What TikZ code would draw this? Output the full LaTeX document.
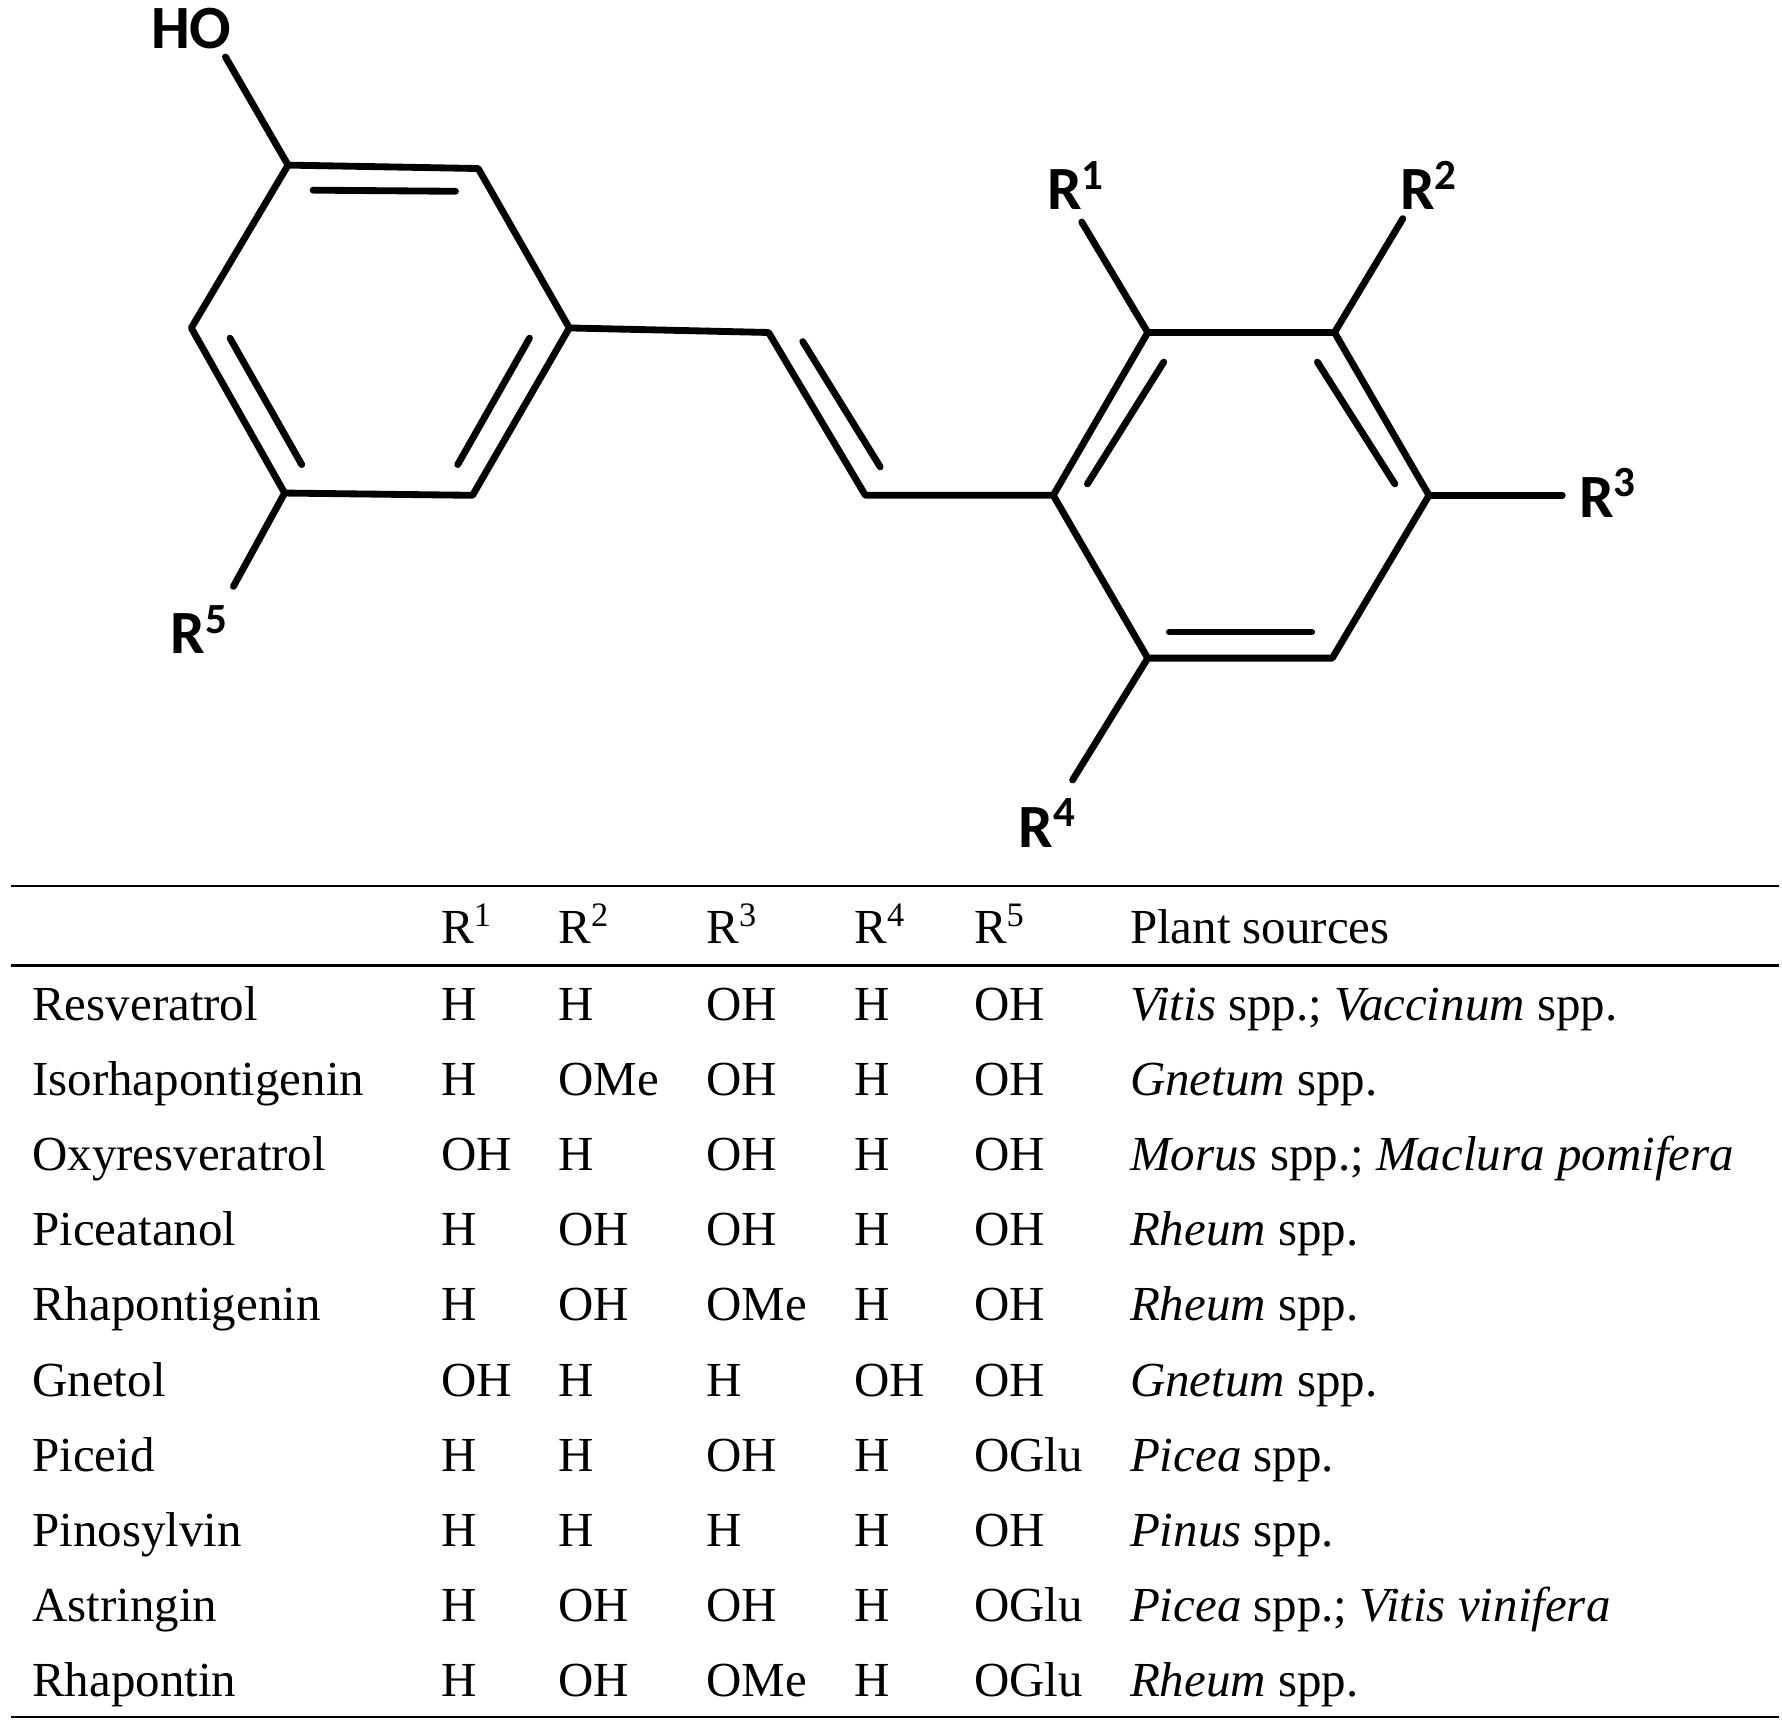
\documentclass[tikz,border=0pt]{standalone}
\usepackage{fontspec}
\setmainfont{Liberation Serif}
\newfontfamily\lab{Carlito}
\begin{document}
\begin{tikzpicture}[x=0.5pt,y=-0.5pt,
  bond/.style={line width=3pt,line cap=round,line join=round},
  lbl/.style={font=\lab\bfseries\fontsize{27}{30}\selectfont,inner sep=0pt},
  cell/.style={anchor=base west,font=\fontsize{21.5}{24}\selectfont,inner sep=0pt},
  rule/.style={line width=1pt}]
\useasboundingbox (0,0) rectangle (1565,1515);
% left ring
\coordinate (A) at (253,145); \coordinate (B) at (420,148); \coordinate (C) at (500,288);
\coordinate (D) at (415,435); \coordinate (E) at (250,433); \coordinate (F) at (168,288);
\draw[bond] (A)--(B)--(C)--(D)--(E)--(F)--cycle;
\draw[bond] (275,167)--(400,168);
\draw[bond] (465,297)--(402,408);
\draw[bond] (265,408)--(202,297);
\node[lbl] (ho) at (168,25) {HO};
\draw[bond] (A)--(198,50);
\node[lbl] (r5) at (175,553) {R\textsuperscript{5}};
\draw[bond] (E)--(205,515);
% chain
\coordinate (P) at (675,292); \coordinate (Q) at (760,435);
\coordinate (G) at (925,435);
\draw[bond] (C)--(P)--(Q)--(G);
\draw[bond] (705,300)--(773,410);
% right ring
\coordinate (H) at (1008,292); \coordinate (I) at (1172,292); \coordinate (J) at (1255,435);
\coordinate (K) at (1170,578); \coordinate (L) at (1008,578);
\draw[bond] (G)--(H)--(I)--(J)--(K)--(L)--cycle;
\draw[bond] (955,425)--(1022,318);
\draw[bond] (1157,318)--(1225,425);
\draw[bond] (1152,555)--(1027,555);
\draw[bond] (H)--(950,195);
\node[lbl] (r1) at (945,163) {R\textsuperscript{1}};
\draw[bond] (I)--(1232,192);
\node[lbl] (r2) at (1255,163) {R\textsuperscript{2}};
\draw[bond] (J)--(1372,435);
\node[lbl] (r3) at (1412,433) {R\textsuperscript{3}};
\draw[bond] (L)--(942,685);
\node[lbl] (r4) at (920,723) {R\textsuperscript{4}};
% table
\draw[rule] (10,778)--(1562,778);
\draw[rule] (10,848)--(1562,848);
\draw[rule] (10,1508)--(1562,1508);
\foreach \t/\x in {R\textsuperscript{1}/387,R\textsuperscript{2}/490,R\textsuperscript{3}/620,R\textsuperscript{4}/750,R\textsuperscript{5}/855,Plant sources/992}
  \node[cell] at (\x,829) {\t};
\foreach \n/\a/\b/\c/\d/\e/\p [count=\i from 0] in {
 Resveratrol/H/H/OH/H/OH/{\textit{Vitis} spp.; \textit{Vaccinum} spp.},
 Isorhapontigenin/H/OMe/OH/H/OH/{\textit{Gnetum} spp.},
 Oxyresveratrol/OH/H/OH/H/OH/{\textit{Morus} spp.; \textit{Maclura pomifera}},
 Piceatanol/H/OH/OH/H/OH/{\textit{Rheum} spp.},
 Rhapontigenin/H/OH/OMe/H/OH/{\textit{Rheum} spp.},
 Gnetol/OH/H/H/OH/OH/{\textit{Gnetum} spp.},
 Piceid/H/H/OH/H/OGlu/{\textit{Picea} spp.},
 Pinosylvin/H/H/H/H/OH/{\textit{Pinus} spp.},
 Astringin/H/OH/OH/H/OGlu/{\textit{Picea} spp.; \textit{Vitis vinifera}},
 Rhapontin/H/OH/OMe/H/OGlu/{\textit{Rheum} spp.}} {
  \pgfmathsetmacro\yy{896+66*\i}
  \node[cell] at (28,\yy) {\n};
  \node[cell] at (387,\yy) {\a};
  \node[cell] at (490,\yy) {\b};
  \node[cell] at (620,\yy) {\c};
  \node[cell] at (750,\yy) {\d};
  \node[cell] at (855,\yy) {\e};
  \node[cell] at (992,\yy) {\p};
}
\end{tikzpicture}
\end{document}
